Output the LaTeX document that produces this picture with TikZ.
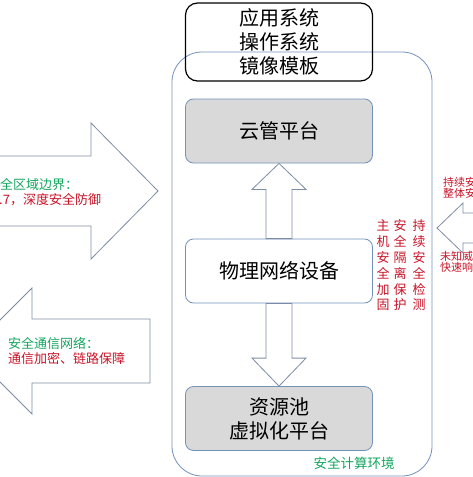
\documentclass[tikz,border=0pt]{standalone}
\usepackage{fontspec}
\setmainfont{Noto Sans CJK SC}
\usepackage{tikz}
\definecolor{boxline}{RGB}{115,145,185}
\definecolor{arrline}{RGB}{125,140,165}
\definecolor{boxgray}{RGB}{217,217,217}
\definecolor{greenish}{RGB}{20,165,95}
\definecolor{redish}{RGB}{200,20,40}
\usetikzlibrary{calc}
\tikzset{
  platnode/.style = {align=center, inner sep=0pt, text centered, line width=0.8pt,
    minimum width=187pt, rounded corners=8pt, font=\fontsize{20}{24}\selectfont},
  plat_g/.style = {platnode, draw=boxline, fill=boxgray, minimum height=64pt},% plateforme grise
  plat_w/.style = {platnode, draw=boxline, fill=white, minimum height=64pt},% equipement, blanc
  plat_k/.style = {platnode, draw=black, line width=1.2pt, minimum height=78pt,
    rounded corners=12pt},% modele d'image, trait noir
  blockarr/.style = {draw=arrline, fill=white, line width=0.8pt, line join=miter},
  txt_r/.style = {redish, inner sep=0pt, align=left, font=\fontsize{13}{16}\selectfont},
  txt_g/.style = {greenish, inner sep=0pt, align=left, font=\fontsize{13}{16}\selectfont},
  txt_col/.style = {redish, inner sep=0pt, align=center, font=\fontsize{13}{15.8}\selectfont},
  txt_s/.style = {redish, inner sep=0pt, align=left, font=\fontsize{11}{11.5}\selectfont},
}

\begin{document}
\begin{tikzpicture}[x=1pt,y=-1pt]
\useasboundingbox (0,0) rectangle (473,477);
% cadre
\node [draw=boxline, line width=0.8pt, rounded corners=30pt, minimum width=260pt,
  minimum height=424pt, inner sep=0pt] (frame) at (302,264) {};
\node [txt_g, font=\fontsize{13.5}{16}\selectfont] (frame_lbl) at (354,463) {安全计算环境};

% blocs
\node [plat_k] (image) at (279,42) {应用系统\\操作系统\\镜像模板};
\node [plat_g] (cloud) at (279,131) {云管平台};
\node [plat_w] (phys) at (279,271) {物理网络设备};
\node [plat_g] (pool) at (279,418.5) {资源池\\虚拟化平台};

% fleches internes
\draw [blockarr] (cloud.south) -- ($(cloud.south)+(27,26)$) -- ($(cloud.south)+(13,26)$)
  -- ($(phys.north)+(13,0)$) -- ($(phys.north)+(-13,0)$)
  -- ($(cloud.south)+(-13,26)$) -- ($(cloud.south)+(-27,26)$) -- cycle;
\draw [blockarr] (pool.north) -- ($(pool.north)+(27,-28)$) -- ($(pool.north)+(13,-28)$)
  -- ($(phys.south)+(13,0)$) -- ($(phys.south)+(-13,0)$)
  -- ($(pool.north)+(-13,-28)$) -- ($(pool.north)+(-27,-28)$) -- cycle;

% fleches externes
\draw [blockarr] (-20,156) -- (91,156) -- (91,123) -- (158,191) -- (91,259)
  -- (91,226) -- (-20,226) -- cycle;
\draw [blockarr] (-31,351) -- (32,288) -- (32,319) -- (150,319) -- (150,383)
  -- (32,383) -- (32,414) -- cycle;
\draw [blockarr] (437,228) -- (463,203) -- (463,213) -- (490,213) -- (490,243)
  -- (463,243) -- (463,253) -- cycle;

% textes
\node [txt_g, anchor=west] (bound_g) at (0,185) {全区域边界：};
\node [txt_r, anchor=west] (bound_r) at (-1,200) {.7，深度安全防御};
\node [txt_g, anchor=west] (comm_g) at (8,343) {安全通信网络：};
\node [txt_r, anchor=west] (comm_r) at (8,359) {通信加密、链路保障};
\node [txt_s, anchor=west] (right_up) at (443,187.5) {持续安全\\整体安全};
\node [txt_s, anchor=west] (right_dn) at (440,262) {未知威胁\\快速响应};

\node [txt_col] (col_a) at (383,265.5) {主\\机\\安\\全\\加\\固};
\node [txt_col] (col_b) at (400,265.5) {安\\全\\隔\\离\\保\\护};
\node [txt_col] (col_c) at (419,265.5) {持\\续\\安\\全\\检\\测};
\end{tikzpicture}
\end{document}
